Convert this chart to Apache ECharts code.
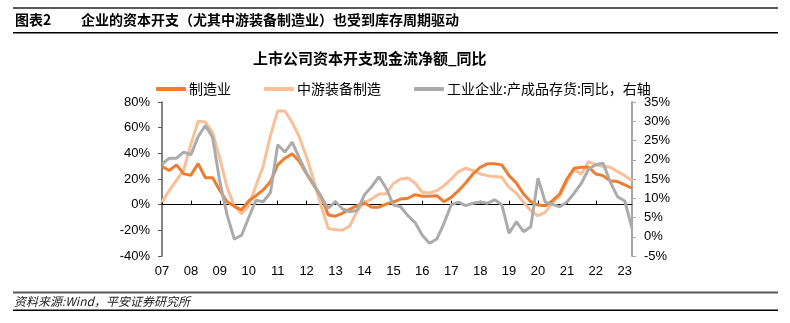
<!DOCTYPE html>
<html><head><meta charset="utf-8">
<script src="https://cdn.jsdelivr.net/npm/echarts@6/dist/echarts.min.js"></script>
<style>html,body{margin:0;padding:0;background:#fff}#c{width:790px;height:323px}</style>
</head><body><div id="c"></div>
<script>
// Quarterly categories 2007Q1 .. 2023Q2
const categories = [
 '07Q1','07Q2','07Q3','07Q4','08Q1','08Q2','08Q3','08Q4','09Q1','09Q2','09Q3','09Q4',
 '10Q1','10Q2','10Q3','10Q4','11Q1','11Q2','11Q3','11Q4','12Q1','12Q2','12Q3','12Q4',
 '13Q1','13Q2','13Q3','13Q4','14Q1','14Q2','14Q3','14Q4','15Q1','15Q2','15Q3','15Q4',
 '16Q1','16Q2','16Q3','16Q4','17Q1','17Q2','17Q3','17Q4','18Q1','18Q2','18Q3','18Q4',
 '19Q1','19Q2','19Q3','19Q4','20Q1','20Q2','20Q3','20Q4','21Q1','21Q2','21Q3','21Q4',
 '22Q1','22Q2','22Q3','22Q4','23Q1','23Q2'
];
const yearLabels = ['07','08','09','10','11','12','13','14','15','16','17','18','19','20','21','22','23'];
const leftTicks = ['-40%','-20%','0%','20%','40%','60%','80%'];
const rightTicks = ['-5%','0%','5%','10%','15%','20%','25%','30%','35%'];

// 制造业 (left axis, %)
const manufacturing = [
 29.7,26.6,31,24,23,32,21,21,11,2.3,-1.3,-4,
 3,7,11.5,18,31,36.2,39.6,33.6,24,15,6.5,-8,
 -9,-6.5,-3.4,-0.8,1.3,-2,-2,0.5,2,4.4,5,7.8,
 6.5,6.5,7,2.3,5.7,10.9,16.9,23.9,29,31.8,31.8,31,
 22.6,17,8.3,2.3,-0.3,-0.8,3.1,8.3,20,28.4,29.2,29.2,
 23.9,22.6,18.7,18,15.4,12.8
];
// 中游装备制造 (left axis, %)
const midstreamEquip = [
 2,11,19,27,47,65,64.5,56,36,13.5,-1,-7,
 -1,15,30,54,73,73,64,52.6,37,18.8,-0.8,-18.5,
 -19.5,-19.8,-16.4,-4.7,1.8,4.4,8.3,8.3,16.5,20,20.8,16.9,
 9.6,9.1,10.9,14.8,20,25.8,28.4,26.6,23.9,22.6,22,21.3,
 13.5,9,1.8,-4.7,-8.6,-6,1.8,6.5,18,27.3,23.9,33.6,
 31,30,29.2,25.8,22.6,18.7
];
// 工业企业:产成品存货:同比 (right axis, %)
const inventory = [
 18.9,20.4,20.4,22,21.3,26,28.9,25.8,14.3,5.7,-0.6,0.4,
 5,9.5,9.1,11.5,23.9,22,24.6,20.4,16.5,13.5,10.4,7.4,
 9.1,7.2,6.5,6.9,10.9,13,15.6,12.6,8.3,7.8,5.5,3.7,
 0.4,-1.7,-0.6,3.5,8.3,9,8.1,8.7,9,8.7,9.6,8.3,
 0.9,3.9,1.3,2.6,15.2,9,8.4,7.8,9,11.3,13.9,17.6,
 18.7,19.1,14.2,10.4,9.3,2.2
];

const seriesNames = ['制造业','中游装备制造','工业企业:产成品存货:同比，右轴'];
const colors = ['#ED7D31','#F8BF98','#ABABAB'];
const FONT = '"Liberation Sans", Arial, "Noto Sans CJK SC", sans-serif';
const CJK = '"Noto Sans CJK SC", sans-serif';

const chart = echarts.init(document.getElementById('c'));
chart.setOption({
  animation: false,
  backgroundColor: '#fff',
  textStyle: { fontFamily: FONT },
  graphic: [
    { type: 'rect', shape: { x: 13, y: 7, width: 765, height: 2 }, style: { fill: '#595959' } },
    { type: 'text', x: 15, y: 20, style: { text: '图表2', font: 'bold 14px ' + CJK, fill: '#000', verticalAlign: 'middle' } },
    { type: 'text', x: 81, y: 20, style: { text: '企业的资本开支（尤其中游装备制造业）也受到库存周期驱动', font: 'bold 14px ' + CJK, fill: '#000', verticalAlign: 'middle' } },
    { type: 'rect', shape: { x: 13, y: 32, width: 765, height: 1.5 }, style: { fill: '#000' } },
    { type: 'text', x: 253, y: 58, style: { text: '上市公司资本开支现金流净额_同比', font: 'bold 15px ' + CJK, fill: '#000', verticalAlign: 'middle' } },
    { type: 'rect', shape: { x: 13, y: 291.5, width: 765, height: 2 }, style: { fill: '#595959' } },
    { type: 'text', x: 14, y: 301, style: { text: '资料来源:Wind，平安证券研究所', font: 'italic 12px ' + CJK, fill: '#222', verticalAlign: 'middle' } },
    { type: 'rect', shape: { x: 13, y: 309.5, width: 765, height: 1.5 }, style: { fill: '#000' } }
  ],
  legend: {
    left: 151, top: 77,
    itemWidth: 30, itemHeight: 4, itemGap: 33,
    icon: 'roundRect',
    textStyle: { fontSize: 14, color: '#000', fontFamily: CJK, padding: [0,0,0,-2] },
    data: seriesNames
  },
  grid: { left: 162, right: 158, top: 102, bottom: 67, containLabel: false },
  xAxis: [
    {
      type: 'category', data: categories, boundaryGap: false,
      axisLine: { onZero: true, lineStyle: { color: '#000', width: 1 } },
      axisTick: { show: true, inside: true, interval: 3, length: 4, lineStyle: { color: '#000' } },
      axisLabel: { show: false }, splitLine: { show: false }
    },
    {
      type: 'category', data: categories, boundaryGap: false, position: 'bottom',
      axisLine: { show: false, onZero: false }, axisTick: { show: false },
      axisLabel: { interval: 3, margin: 9, fontSize: 13, color: '#000',
        formatter: (v, i) => yearLabels[Math.round(i / 4)] },
      splitLine: { show: false }
    }
  ],
  yAxis: [
    {
      type: 'value', min: -40, max: 80, interval: 20, position: 'left',
      axisLine: { show: true, lineStyle: { color: '#595959', width: 1.5 } },
      axisTick: { show: true, length: 4, lineStyle: { color: '#595959' } },
      axisLabel: { margin: 12, fontSize: 13, color: '#000',
        formatter: v => leftTicks[Math.round((v + 40) / 20)] },
      splitLine: { show: false }
    },
    {
      type: 'value', min: -5, max: 35, interval: 5, position: 'right',
      axisLine: { show: true, lineStyle: { color: '#A6A6A6', width: 2 } },
      axisTick: { show: true, length: 4, lineStyle: { color: '#A6A6A6' } },
      axisLabel: { margin: 12, fontSize: 13, color: '#000',
        formatter: v => rightTicks[Math.round((v + 5) / 5)] },
      splitLine: { show: false }
    }
  ],
  series: [
    { name: seriesNames[0], type: 'line', data: manufacturing, yAxisIndex: 0, xAxisIndex: 0,
      symbol: 'none', color: colors[0], lineStyle: { width: 3, color: colors[0] }, z: 3 },
    { name: seriesNames[1], type: 'line', data: midstreamEquip, yAxisIndex: 0, xAxisIndex: 0,
      symbol: 'none', color: colors[1], lineStyle: { width: 3, color: colors[1] }, z: 2 },
    { name: seriesNames[2], type: 'line', data: inventory, yAxisIndex: 1, xAxisIndex: 0,
      symbol: 'none', color: colors[2], lineStyle: { width: 3, color: colors[2] }, z: 4 }
  ]
});
</script>
</body></html>
